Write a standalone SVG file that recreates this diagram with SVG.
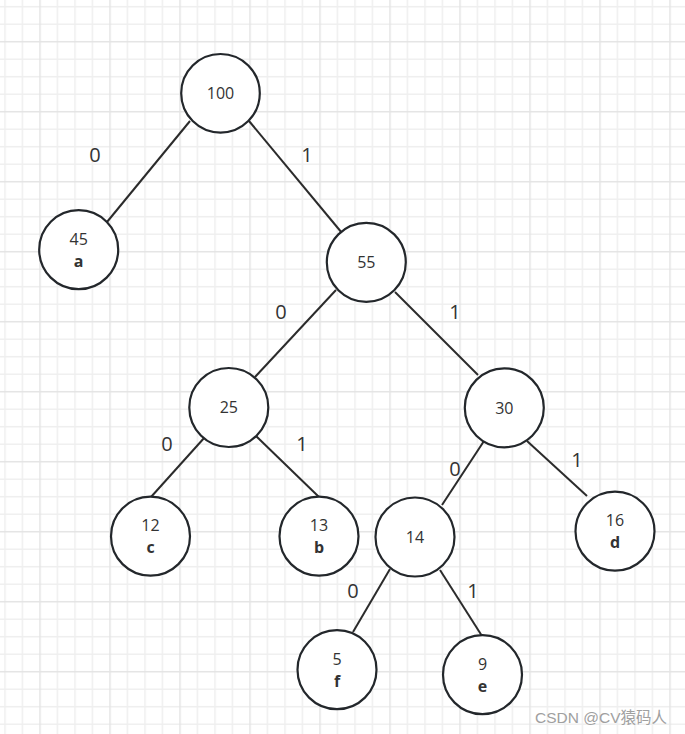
<svg xmlns="http://www.w3.org/2000/svg" width="685" height="734" viewBox="0 0 685 734">
<defs>
<pattern id="grid" patternUnits="userSpaceOnUse" x="31.25" y="32.95" width="70" height="70">
<path d="M26.25 0V70M43.75 0V70M61.25 0V70M0 26.25H70M0 43.75H70M0 61.25H70" stroke="#efefef" stroke-width="1.5" fill="none"/>
<path d="M8.75 0V70M0 8.75H70" stroke="#e4e4e4" stroke-width="1.5" fill="none"/>
</pattern>
<style>
.n circle{fill:#fff;stroke:#23272b;stroke-width:2.2}
.num{font-family:"Open Sans","Liberation Sans",sans-serif;font-size:16px;fill:#333;text-anchor:middle}
.let{font-family:"Open Sans","Liberation Sans",sans-serif;font-size:16px;font-weight:bold;fill:#333;text-anchor:middle}
.lbl{font-family:"Open Sans","Liberation Sans",sans-serif;font-size:20px;fill:#333;text-anchor:middle}
#edges line{stroke:#2b2b2b;stroke-width:2}
</style>
</defs>
<rect width="685" height="734" fill="#fff"/>
<rect width="685" height="734" fill="url(#grid)"/>
<g id="edges">
<line x1="190" y1="121" x2="107" y2="222"/>
<line x1="249" y1="121" x2="342" y2="233"/>
<line x1="336" y1="290" x2="255" y2="377"/>
<line x1="395" y1="292" x2="478" y2="375"/>
<line x1="205" y1="437" x2="151" y2="497"/>
<line x1="256" y1="436" x2="319" y2="497"/>
<line x1="484" y1="441" x2="442" y2="505"/>
<line x1="527" y1="441" x2="587" y2="496"/>
<line x1="390" y1="569" x2="353" y2="632"/>
<line x1="440" y1="570" x2="482" y2="636"/>
</g>
<g id="labels">
<text class="lbl" x="95" y="162">0</text>
<text class="lbl" x="307" y="162">1</text>
<text class="lbl" x="281" y="319">0</text>
<text class="lbl" x="455" y="319">1</text>
<text class="lbl" x="167" y="451">0</text>
<text class="lbl" x="302" y="451">1</text>
<text class="lbl" x="455" y="476">0</text>
<text class="lbl" x="577" y="467">1</text>
<text class="lbl" x="353" y="598">0</text>
<text class="lbl" x="473" y="598">1</text>
</g>
<g id="n100" class="n"><circle cx="220.5" cy="93.3" r="39.3"/><text class="num" x="220.5" y="99">100</text></g>
<g id="n45" class="n"><circle cx="78.7" cy="249.7" r="39.5"/><text class="num" x="78.7" y="245">45</text><text class="let" x="78.7" y="267">a</text></g>
<g id="n55" class="n"><circle cx="366.3" cy="262.3" r="39.5"/><text class="num" x="366.3" y="268">55</text></g>
<g id="n25" class="n"><circle cx="228.8" cy="407.5" r="39.5"/><text class="num" x="228.8" y="413">25</text></g>
<g id="n30" class="n"><circle cx="504.3" cy="407.8" r="39.5"/><text class="num" x="504.3" y="413.5">30</text></g>
<g id="n12" class="n"><circle cx="150.5" cy="536.2" r="39.5"/><text class="num" x="150.5" y="531">12</text><text class="let" x="150.5" y="553">c</text></g>
<g id="n13" class="n"><circle cx="319" cy="536.2" r="39.5"/><text class="num" x="319" y="531">13</text><text class="let" x="319" y="553">b</text></g>
<g id="n14" class="n"><circle cx="415" cy="537" r="39.5"/><text class="num" x="415" y="542.5">14</text></g>
<g id="n16" class="n"><circle cx="615" cy="531.2" r="39.5"/><text class="num" x="615" y="526">16</text><text class="let" x="615" y="548">d</text></g>
<g id="n5" class="n"><circle cx="337" cy="669.7" r="39.5"/><text class="num" x="337" y="664.5">5</text><text class="let" x="337" y="686.5">f</text></g>
<g id="n9" class="n"><circle cx="482.5" cy="674.7" r="39.5"/><text class="num" x="482.5" y="670">9</text><text class="let" x="482.5" y="692">e</text></g>
<text x="535" y="723" font-family="'Liberation Sans','Noto Sans CJK SC',sans-serif" font-size="15.5" fill="#a0a0a0">CSDN @CV猿码人</text>
</svg>
